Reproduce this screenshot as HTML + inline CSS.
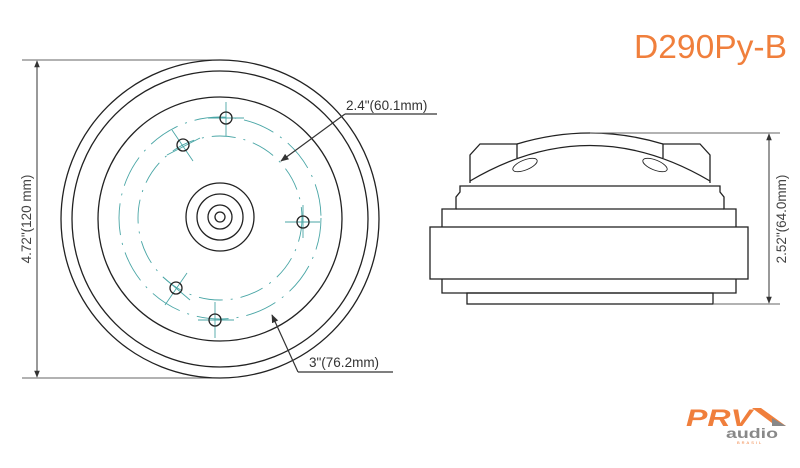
<!DOCTYPE html>
<html><head><meta charset="utf-8"><style>
html,body{margin:0;padding:0;background:#fff;}
svg{display:block;}
</style></head><body>
<svg width="800" height="468" viewBox="0 0 800 468" xmlns="http://www.w3.org/2000/svg" font-family="Liberation Sans, sans-serif">
<defs>
<marker id="ah" viewBox="0 0 10 10" refX="9" refY="5" markerWidth="7" markerHeight="7" orient="auto-start-reverse"><path d="M0,1 L10,5 L0,9 z" fill="#333"/></marker>
</defs>
<rect width="800" height="468" fill="#fff"/>
<text x="787" y="58" text-anchor="end" font-size="33" fill="#f07f3c" textLength="153" lengthAdjust="spacingAndGlyphs">D290Py-B</text>

<!-- left dimension -->
<g stroke="#666" stroke-width="1" fill="none">
<line x1="22" y1="60" x2="220" y2="60"/>
<line x1="22" y1="378" x2="220" y2="378"/>
<line x1="37" y1="61" x2="37" y2="377" marker-start="url(#ah)" marker-end="url(#ah)" stroke="#333"/>
</g>
<text transform="translate(31,219) rotate(-90)" text-anchor="middle" font-size="13.5" fill="#444">4.72"(120 mm)</text>

<!-- front view -->
<g fill="none" stroke="#222" stroke-width="1.3">
<circle cx="220" cy="219" r="159"/>
<circle cx="220" cy="219" r="148"/>
<circle cx="220" cy="219" r="122"/>
<circle cx="220" cy="217" r="34"/>
<circle cx="220" cy="217" r="23"/>
<circle cx="220" cy="217" r="12"/>
<circle cx="220" cy="217" r="5"/>
</g>
<g fill="none" stroke="#4aa6a6" stroke-width="0.9">
<circle cx="220" cy="218" r="82" stroke-dasharray="24 8 2 8"/>
<circle cx="220" cy="218" r="101" stroke-dasharray="32 8 2 8"/>
<line x1="226" y1="102" x2="226" y2="136"/><line x1="208" y1="118" x2="244" y2="118"/>
<line x1="215" y1="302" x2="215" y2="338"/><line x1="198" y1="320" x2="234" y2="320"/>
<line x1="303" y1="205" x2="303" y2="238"/><line x1="285" y1="222" x2="320" y2="222"/>
<line x1="172" y1="130" x2="193" y2="161"/><line x1="167" y1="155" x2="200" y2="138"/>
<line x1="163" y1="277" x2="190" y2="300"/><line x1="165" y1="305" x2="187" y2="273"/>
</g>
<g fill="none" stroke="#222" stroke-width="1.3">
<circle cx="226" cy="118" r="6"/>
<circle cx="215" cy="320" r="6"/>
<circle cx="303" cy="222" r="6"/>
<circle cx="183" cy="145" r="6"/>
<circle cx="176" cy="288" r="6"/>
</g>

<!-- leaders -->
<g stroke="#333" stroke-width="1.2" fill="none">
<line x1="345" y1="114" x2="437" y2="114"/>
<line x1="345" y1="114" x2="281" y2="161" marker-end="url(#ah)"/>
<line x1="298" y1="372" x2="393" y2="372"/>
<line x1="298" y1="372" x2="272" y2="315" marker-end="url(#ah)"/>
</g>
<text x="346" y="110" font-size="13.5" fill="#333">2.4"(60.1mm)</text>
<text x="309" y="367" font-size="13.5" fill="#333">3"(76.2mm)</text>

<!-- side view -->
<g fill="none" stroke="#222" stroke-width="1.3">
<rect x="430" y="227" width="318" height="52"/>
<path d="M442,227 L442,209 L456,209 L456,197 L460,192 L460,186 L720,186 L720,192 L724,197 L724,209 L736,209 L736,227"/>
<line x1="456" y1="209" x2="724" y2="209"/>
<path d="M442,279 L442,293 L736,293 L736,279"/>
<rect x="467" y="293" width="246" height="11"/>
<path d="M470,183 L470,155 L480,144 L517,144 L517,158"/>
<path d="M710,183 L710,155 L700,144 L663,144 L663,158"/>
<path d="M517,144 Q590,122 663,144"/>
<path d="M470,181 Q590,110 710,181"/>
<ellipse cx="525" cy="165" rx="13" ry="5" transform="rotate(-22 525 165)" stroke-width="0.9"/>
<ellipse cx="655" cy="165" rx="13" ry="5" transform="rotate(22 655 165)" stroke-width="0.9"/>
</g>
<g stroke="#666" stroke-width="1" fill="none">
<line x1="590" y1="133" x2="780" y2="133"/>
<line x1="713" y1="304" x2="780" y2="304"/>
<line x1="769" y1="134" x2="769" y2="303" marker-start="url(#ah)" marker-end="url(#ah)" stroke="#333"/>
</g>
<text transform="translate(786,219) rotate(-90)" text-anchor="middle" font-size="13.5" fill="#444">2.52"(64.0mm)</text>

<!-- logo -->
<text x="686" y="426" font-size="24" font-weight="bold" font-style="italic" fill="#f07f3c" textLength="66" lengthAdjust="spacingAndGlyphs">PRV</text>
<path d="M752,408 L761,408 L786,426 L776,426 Z" fill="#f07f3c"/>
<path d="M772,418 L786,426 L772,426 Z" fill="#888"/>
<text x="726" y="438" font-size="14" font-weight="bold" fill="#888" textLength="52" lengthAdjust="spacingAndGlyphs">audio</text>
<text x="737" y="444" font-size="4" fill="#f07f3c" letter-spacing="2">BRASIL</text>
</svg>
</body></html>
